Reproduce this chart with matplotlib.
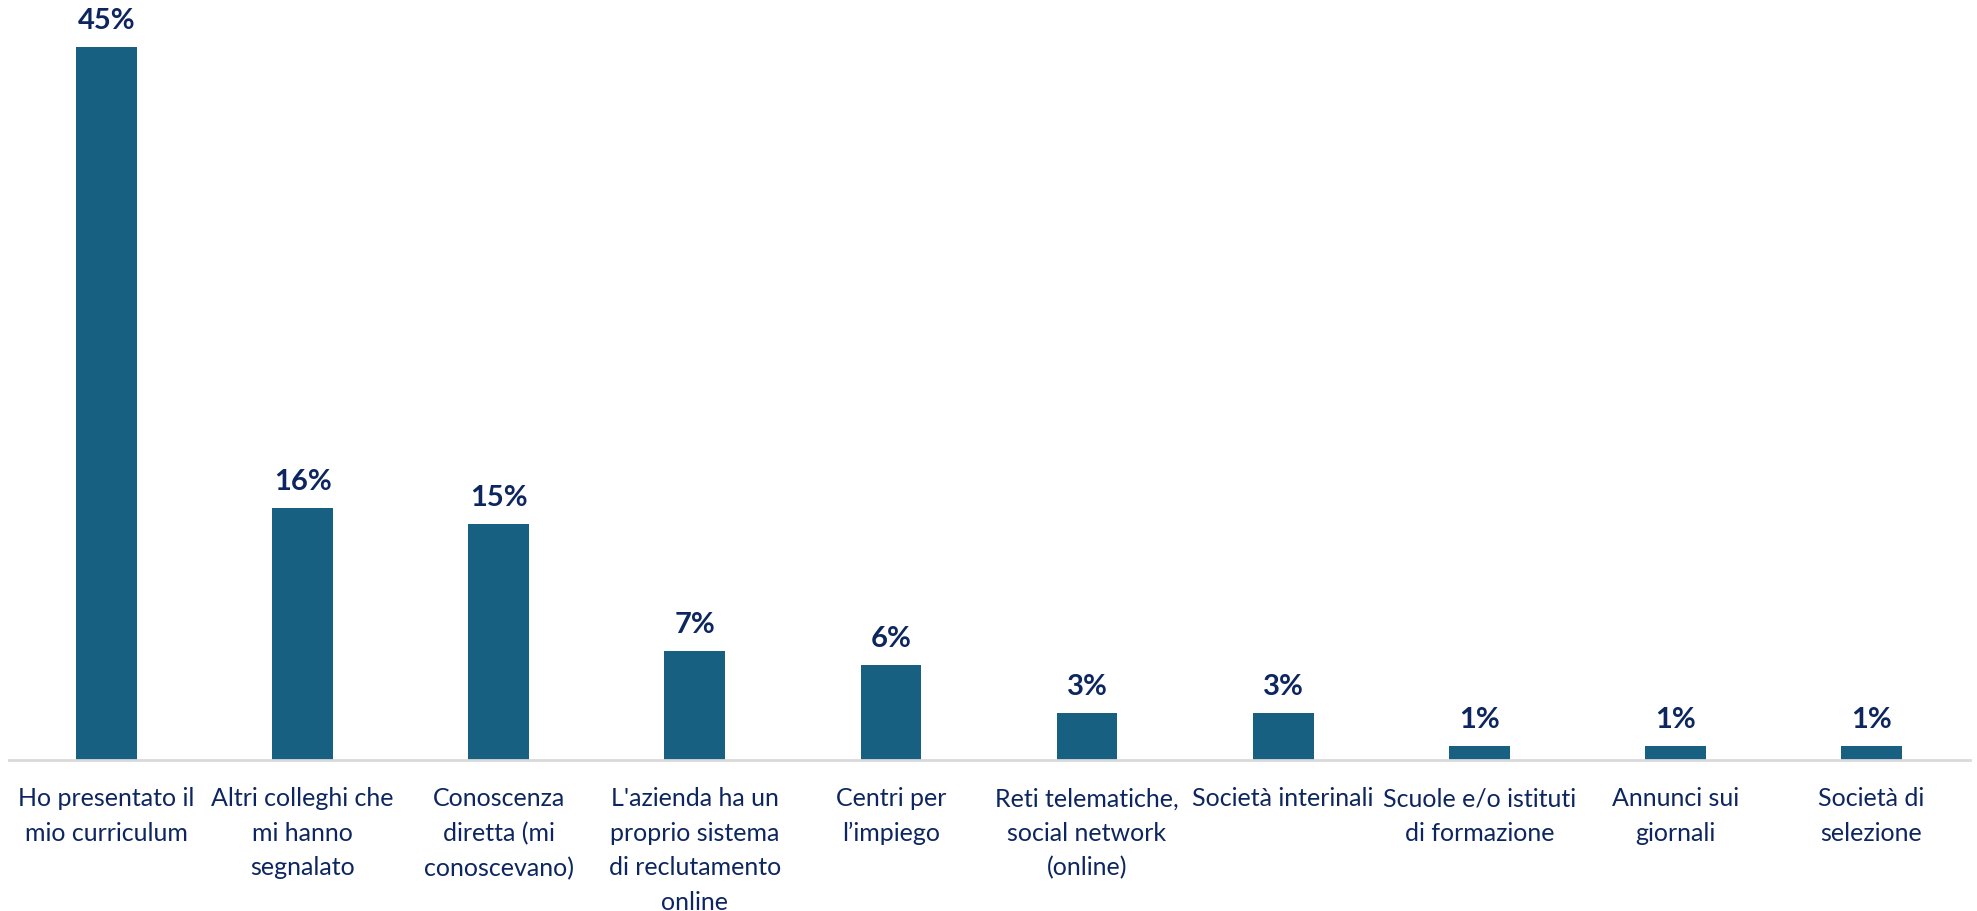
import matplotlib.pyplot as plt

# Dati del grafico
categorie = [
    "Ho presentato il\nmio curriculum",
    "Altri colleghi che\nmi hanno\nsegnalato",
    "Conoscenza\ndiretta (mi\nconoscevano)",
    "L'azienda ha un\nproprio sistema\ndi reclutamento\nonline",
    "Centri per\nl’impiego",
    "Reti telematiche,\nsocial network\n(online)",
    "Società interinali",
    "Scuole e/o istituti\ndi formazione",
    "Annunci sui\ngiornali",
    "Società di\nselezione",
]
valori = [45.0, 15.9, 14.9, 6.9, 6.0, 2.95, 2.95, 0.9, 0.9, 0.9]
etichette = ["45%", "16%", "15%", "7%", "6%", "3%", "3%", "1%", "1%", "1%"]

colore_barre = '#176082'
colore_testo = '#0D2660'

plt.rcParams['font.family'] = ['Lato', 'DejaVu Sans']

fig = plt.figure(figsize=(19.77, 9.12), dpi=100)
ax = fig.add_axes([8.5 / 1977, 151 / 912, 1961 / 1977, 761 / 912])

x = range(len(categorie))
ax.bar(x, valori, width=0.31, color=colore_barre)

# Etichette dei valori sopra le barre
for i, (v, t) in enumerate(zip(valori, etichette)):
    ax.annotate(t, (i, v), xytext=(0, 10), textcoords='offset points',
                ha='center', va='bottom', fontsize=21, fontweight='bold',
                color=colore_testo)

ax.set_xlim(-0.5, len(categorie) - 0.5)
ax.set_ylim(0, 48.0)
ax.set_xticks(list(x))
ax.set_xticklabels(categorie, fontsize=18, color=colore_testo, linespacing=1.6,
                   ha='center', va='top')
ax.tick_params(axis='x', length=0, pad=19)
ax.set_yticks([])

for lato in ['top', 'right', 'left']:
    ax.spines[lato].set_visible(False)
ax.spines['bottom'].set_color('#D9D9D9')
ax.spines['bottom'].set_linewidth(2)

fig.savefig('out.png', dpi=100)
